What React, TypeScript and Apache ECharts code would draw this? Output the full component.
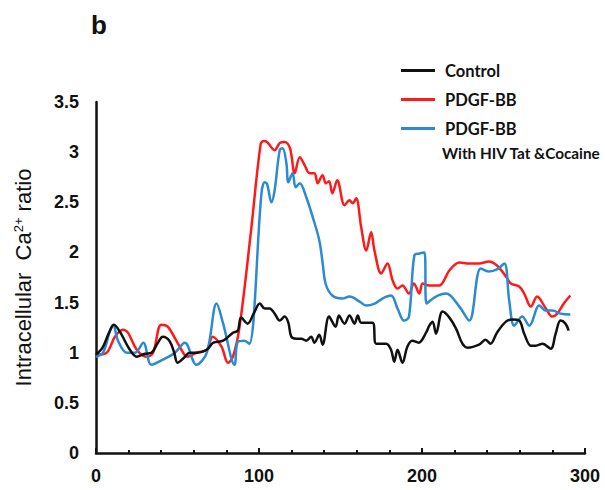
import React, { useEffect, useRef } from "react";
import * as echarts from "echarts";

const controlTime = [0, 4, 8, 11, 15, 20, 25, 30, 34, 38, 41, 45, 48, 50, 54, 57.5, 62, 68, 72, 78, 84, 87, 89, 93, 97, 100.5, 103.5, 106.5, 109.6, 112.7, 115.7, 118, 119.8, 122.9, 126, 129, 132, 134, 137, 139, 143, 147, 149, 152.5, 155.5, 158.6, 160.6, 162.7, 169.6, 171.9, 178, 181, 183, 185, 188, 191, 194, 198, 202.5, 204.5, 206.5, 208.6, 212.6, 216.8, 220.9, 224.8, 228, 235, 239, 242, 246, 251.5, 255.5, 259.6, 262.7, 266.8, 269.8, 274, 279, 282, 285, 288, 290];
const controlValues = [0.98, 1.05, 1.2, 1.28, 1.2, 1.05, 0.96, 0.99, 1.0, 1.1, 1.16, 1.12, 1.0, 0.9, 0.95, 1.0, 1.0, 1.03, 1.1, 1.12, 1.2, 1.22, 1.35, 1.29, 1.4, 1.49, 1.44, 1.44, 1.39, 1.32, 1.36, 1.3, 1.16, 1.14, 1.14, 1.12, 1.16, 1.1, 1.18, 1.08, 1.36, 1.26, 1.37, 1.29, 1.37, 1.29, 1.37, 1.3, 1.3, 1.09, 1.09, 1.03, 0.91, 1.03, 0.9, 1.06, 1.12, 1.1, 1.2, 1.27, 1.31, 1.19, 1.41, 1.35, 1.24, 1.09, 1.05, 1.08, 1.13, 1.09, 1.2, 1.31, 1.33, 1.32, 1.19, 1.07, 1.07, 1.09, 1.04, 1.19, 1.32, 1.29, 1.22];

const pdgfTime = [0, 6.5, 11.6, 16.5, 19.6, 25, 31, 35, 40, 44, 51.4, 56, 61.6, 68, 71.6, 77, 81, 84, 88, 95, 101, 103, 105, 109.6, 112.7, 115.7, 119, 121.9, 125, 128, 131, 134, 136, 139, 141, 143, 145, 148, 152.5, 155.5, 157.5, 159.6, 162.7, 165.8, 168.8, 170.8, 175, 178.8, 182, 185, 188, 192, 195, 198.4, 200.4, 204.5, 210.6, 216.8, 222.9, 229, 235, 241, 246, 251.5, 254.5, 259.6, 262.7, 266.8, 270.6, 276, 280, 283, 287, 291];
const pdgfValues = [0.98, 1.0, 1.16, 1.23, 1.2, 1.03, 0.96, 1.0, 1.28, 1.26, 1.06, 0.96, 1.0, 1.03, 1.16, 1.06, 0.9, 0.96, 1.25, 2.2, 3.08, 3.11, 3.1, 3.02, 3.09, 3.1, 3.04, 2.79, 2.95, 2.87, 2.79, 2.79, 2.69, 2.77, 2.69, 2.71, 2.59, 2.72, 2.47, 2.52, 2.49, 2.54, 2.25, 2.02, 2.2, 2.02, 1.79, 1.89, 1.72, 1.64, 1.67, 1.59, 1.69, 1.59, 1.69, 1.67, 1.67, 1.82, 1.9, 1.89, 1.89, 1.91, 1.87, 1.76, 1.69, 1.66, 1.59, 1.46, 1.56, 1.44, 1.36, 1.39, 1.49, 1.57];

const tatTime = [0, 4.3, 8.6, 10.5, 13.5, 18.8, 24, 29, 34, 41, 48.4, 54.5, 61.6, 68, 74, 78, 85, 87, 91, 94, 101.5, 103.5, 105, 107.6, 109.6, 112.7, 114.5, 116.8, 118, 120.6, 122.5, 125, 129, 133, 137, 139, 141, 145, 151, 155.5, 161.7, 165.8, 171, 175.7, 181, 185, 189, 192, 195.3, 198.4, 201.5, 202.7, 208.6, 214.8, 222.9, 229, 236, 241, 246, 250.5, 253.5, 256.6, 261.5, 265.8, 272, 276, 280, 285, 291];
const tatValues = [0.96, 1.0, 1.22, 1.28, 1.12, 1.0, 1.0, 1.1, 0.88, 0.93, 1.0, 1.1, 0.88, 1.0, 1.49, 1.29, 0.88, 1.11, 1.12, 1.09, 2.59, 2.7, 2.68, 2.5, 2.62, 3.02, 3.04, 2.89, 2.7, 2.79, 2.65, 2.69, 2.55, 2.35, 2.12, 1.9, 1.68, 1.57, 1.54, 1.56, 1.51, 1.47, 1.49, 1.54, 1.57, 1.44, 1.32, 1.36, 1.97, 1.99, 2.0, 1.49, 1.56, 1.59, 1.46, 1.32, 1.84, 1.81, 1.83, 1.89, 1.52, 1.27, 1.36, 1.27, 1.47, 1.42, 1.42, 1.39, 1.38];

const seriesNames = ["Control", "PDGF-BB", "PDGF-BB With HIV Tat &Cocaine"];
const legendLabels = ["Control", "PDGF-BB", "PDGF-BB"];
const legendSecondLine = "With HIV Tat &Cocaine";
const seriesColors = ["#111111", "#ff1a1a", "#2b8ad2"];

const zip = (t: number[], v: number[]) => t.map((x, i) => [x, v[i]]);

export default function App() {
  const ref = useRef<HTMLDivElement>(null);
  useEffect(() => {
    if (!ref.current) return;
    const chart = echarts.init(ref.current, undefined, { renderer: "svg" });
    const font = "'Liberation Sans', Arial, sans-serif";
    const legendFont = "Lato, 'Liberation Sans', sans-serif";
    const datasets = [zip(controlTime, controlValues), zip(pdgfTime, pdgfValues), zip(tatTime, tatValues)];
    chart.setOption({
      animation: false,
      backgroundColor: "#ffffff",
      title: {
        text: "b",
        left: 86,
        top: 7,
        textStyle: { fontFamily: font, fontSize: 26, fontWeight: "bold", color: "#111" },
      },
      legend: {
        orient: "vertical",
        left: 396,
        top: 57,
        itemWidth: 34,
        itemHeight: 3,
        itemGap: 12,
        icon: "rect",
        data: seriesNames,
        formatter: (name: string) => legendLabels[seriesNames.indexOf(name)],
        textStyle: { fontFamily: legendFont, fontSize: 16.5, fontWeight: "bold", color: "#111", padding: [0, 0, 0, 5] },
        selectedMode: false,
      },
      graphic: [
        {
          type: "text",
          left: 442,
          top: 145,
          style: { text: legendSecondLine, fontFamily: legendFont, fontSize: 15.3, fontWeight: "bold", fill: "#111" },
        },
      ],
      grid: { left: 96, right: 20, top: 102, bottom: 37, containLabel: false },
      xAxis: {
        type: "value",
        min: 0,
        max: 300,
        interval: 100,
        axisLine: { show: true, lineStyle: { color: "#111", width: 2.5 } },
        axisTick: { show: true, inside: true, length: 5, lineStyle: { color: "#111", width: 2 } },
        minorTick: { show: true, splitNumber: 5, length: 3, lineStyle: { color: "#111", width: 2 } },
        splitLine: { show: false },
        axisLabel: { fontFamily: font, fontSize: 18, fontWeight: "bold", color: "#111", margin: 14 },
      },
      yAxis: {
        type: "value",
        min: 0,
        max: 3.5,
        interval: 0.5,
        name: "{a|Intracellular  Ca}{s|2+}{a| ratio}",
        nameLocation: "middle",
        nameGap: 61,
        nameRotate: 90,
        nameTextStyle: {
          rich: {
            a: { fontFamily: font, fontSize: 22, color: "#111" },
            s: { fontFamily: font, fontSize: 13, color: "#111", verticalAlign: "top", padding: [0, 0, 10, 0] },
          },
        },
        axisLine: { show: true, lineStyle: { color: "#111", width: 2.5 } },
        axisTick: { show: false },
        splitLine: { show: false },
        axisLabel: { fontFamily: font, fontSize: 18, fontWeight: "bold", color: "#111", margin: 17 },
      },
      series: datasets.map((d, i) => ({
        name: seriesNames[i],
        type: "line",
        data: d,
        smooth: 0.35,
        showSymbol: false,
        symbol: "none",
        z: i === 0 ? 4 : i === 1 ? 2 : 3,
        lineStyle: { color: seriesColors[i], width: 2.5 },
        itemStyle: { color: seriesColors[i] },
      })),
    });
    return () => chart.dispose();
  }, []);
  return <div ref={ref} style={{ position: "fixed", left: 0, top: 0, width: 605, height: 490 }} />;
}
